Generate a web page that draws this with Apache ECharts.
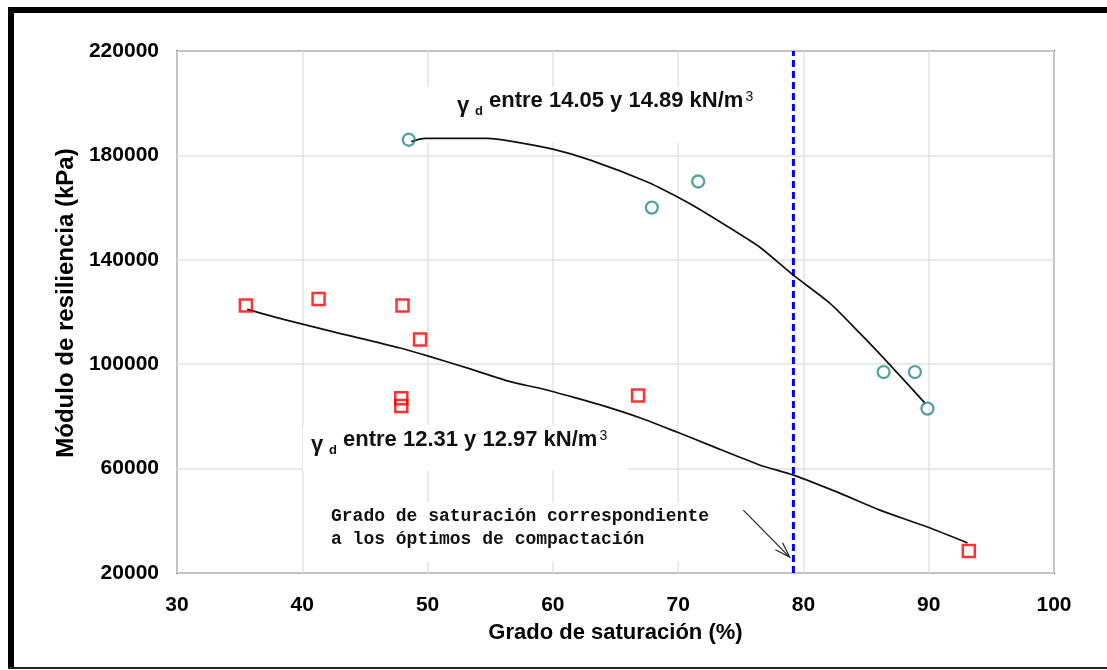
<!DOCTYPE html>
<html>
<head>
<meta charset="utf-8">
<script src="https://cdn.jsdelivr.net/npm/echarts@6/dist/echarts.min.js"></script>
<style>
  html, body { margin: 0; padding: 0; background: #fff; }
  #chart { width: 1107px; height: 670px; }
</style>
</head>
<body>
<div id="chart"></div>
<script>
// Ensayos con peso volumétrico seco alto (círculos)
const saturacionAlta = [48.5, 67.9, 71.6, 86.4, 88.9, 89.9];
const moduloAlta = [186000, 160000, 170000, 97000, 97000, 83000];

// Ensayos con peso volumétrico seco bajo (cuadrados)
const saturacionBaja = [35.5, 41.3, 48.0, 49.4, 47.9, 47.9, 66.8, 93.2];
const moduloBaja = [122500, 125000, 122500, 109500, 87000, 84000, 88000, 28400];

// Curvas de tendencia
const tendenciaAltaX = [48.7, 49.8, 54.8, 56.6, 60.0, 63.0, 67.5, 70.1, 71.7, 74.4, 76.5, 79.2, 82.1, 84.5, 86.7, 89.7];
const tendenciaAltaY = [185300, 186500, 186500, 185500, 182400, 178200, 169900, 163700, 159400, 151400, 144900, 134100, 123400, 111900, 100800, 85100];
const tendenciaBajaX = [35.6, 38.5, 42.5, 47.8, 50.2, 53.4, 56.6, 59.2, 61.9, 63.8, 67.0, 69.9, 72.5, 76.5, 79.2, 82.9, 86.1, 89.9, 93.1];
const tendenciaBajaY = [121000, 117200, 112400, 106200, 102900, 98200, 93300, 90500, 87000, 84400, 79400, 74000, 69000, 61400, 57500, 50600, 44100, 37600, 31500];

// Grado de saturación de los óptimos de compactación
const saturacionOptima = 79.2;
// Flecha que señala la línea de óptimos
const flechaX = [75.2, 78.9];
const flechaY = [44100, 26100];

// Ejes
const ejeX = { min: 30, max: 100, interval: 10 };
const ejeY = { min: 20000, max: 220000, interval: 40000 };

const zip = (xs, ys) => xs.map((x, i) => [x, ys[i]]);

const sans = 'Liberation Sans, Arial, sans-serif';
const labelFont = { fontFamily: sans, fontWeight: 'bold', color: '#000' };

// Rótulo "γd entre ... kN/m³" con subíndice y superíndice, sobre un fondo blanco
function rotulo(x, y, texto) {
  return [
    { type: 'rect', z: 1, shape: texto.fondo, style: { fill: '#fff' } },
    { type: 'text', z: 10, left: x, top: y + 3, style: { text: 'γ', fontSize: 22, fontWeight: 'bold', fontFamily: sans, fill: '#111' } },
    { type: 'text', z: 10, left: x + 18, top: y + 13, style: { text: 'd', fontSize: 13, fontWeight: 'bold', fontFamily: sans, fill: '#111' } },
    {
      type: 'text', z: 10, left: x + 32, top: y - 2,
      style: {
        text: '{t|' + texto.linea + '}{p|3}',
        rich: {
          t: { fontSize: 22, fontWeight: 'bold', fontFamily: sans, lineHeight: 26, verticalAlign: 'top', fill: '#111' },
          p: { fontSize: 14, fontFamily: sans, lineHeight: 18, verticalAlign: 'top', fill: '#111', padding: [0, 0, 0, 2] }
        }
      }
    }
  ];
}

const chart = echarts.init(document.getElementById('chart'), null, { renderer: 'canvas' });

const option = {
  backgroundColor: '#fff',
  animation: false,
  grid: {
    left: 177, right: 53, top: 51, bottom: 97,
    show: true, borderColor: '#6e6e6e', borderWidth: 2, backgroundColor: 'transparent'
  },
  xAxis: {
    type: 'value', min: ejeX.min, max: ejeX.max, interval: ejeX.interval,
    name: 'Grado de saturación (%)', nameLocation: 'middle', nameGap: 49,
    nameTextStyle: Object.assign({ fontSize: 22 }, labelFont),
    axisLine: { show: false }, axisTick: { show: false },
    axisLabel: Object.assign({ fontSize: 21, margin: 22, formatter: v => String(v) }, labelFont),
    splitLine: { show: true, lineStyle: { color: '#e2e2e2', width: 1.5 } }
  },
  yAxis: {
    type: 'value', min: ejeY.min, max: ejeY.max, interval: ejeY.interval,
    name: 'Módulo de resiliencia (kPa)', nameLocation: 'middle', nameGap: 99,
    nameTextStyle: Object.assign({ fontSize: 24, padding: [0, 0, 0, 18] }, labelFont),
    axisLine: { show: false }, axisTick: { show: false },
    axisLabel: Object.assign({ fontSize: 21, margin: 18, formatter: v => String(v) }, labelFont),
    splitLine: { show: true, lineStyle: { color: '#e2e2e2', width: 1.5 } }
  },
  series: [
    {
      name: 'Óptimos de compactación', type: 'line',
      data: [[saturacionOptima, ejeY.min], [saturacionOptima, ejeY.max]],
      symbol: 'none', silent: true,
      lineStyle: { color: '#0000ff', width: 3, type: [7, 4] },
      z: 2
    },
    {
      name: 'Tendencia alta', type: 'line', data: zip(tendenciaAltaX, tendenciaAltaY),
      symbol: 'none', smooth: 0.25,
      lineStyle: { color: '#111', width: 1.7 }, z: 3
    },
    {
      name: 'Tendencia baja', type: 'line', data: zip(tendenciaBajaX, tendenciaBajaY),
      symbol: 'none', smooth: 0.25,
      lineStyle: { color: '#111', width: 1.7 }, z: 3
    },
    {
      name: 'γd 14.05 - 14.89', type: 'scatter', data: zip(saturacionAlta, moduloAlta),
      symbol: 'circle', symbolSize: 12,
      itemStyle: { color: 'rgba(255,255,255,0)', borderColor: '#278c87', borderWidth: 2.3 }, z: 4
    },
    {
      name: 'γd 12.31 - 12.97', type: 'scatter', data: zip(saturacionBaja, moduloBaja),
      symbol: 'rect', symbolSize: 12,
      itemStyle: { color: 'rgba(255,255,255,0)', borderColor: '#ff0000', borderWidth: 2.5 }, z: 4
    },
    {
      name: 'Flecha', type: 'custom', silent: true, z: 5,
      data: [[flechaX[0], flechaY[0], flechaX[1], flechaY[1]]],
      renderItem: function (params, api) {
        const p0 = api.coord([api.value(0), api.value(1)]);
        const p1 = api.coord([api.value(2), api.value(3)]);
        const ang = Math.atan2(p1[1] - p0[1], p1[0] - p0[0]);
        const len = 16, spread = 0.32;
        const h1 = [p1[0] - len * Math.cos(ang - spread), p1[1] - len * Math.sin(ang - spread)];
        const h2 = [p1[0] - len * Math.cos(ang + spread), p1[1] - len * Math.sin(ang + spread)];
        const st = { stroke: '#222', lineWidth: 1.2, fill: null };
        return {
          type: 'group',
          children: [
            { type: 'polyline', shape: { points: [p0, p1] }, style: st },
            { type: 'polyline', shape: { points: [h1, p1, h2] }, style: st }
          ]
        };
      }
    }
  ],
  graphic: [
    // Marco exterior
    { type: 'line', z: 20, shape: { x1: 8, y1: 10, x2: 1107, y2: 10 }, style: { stroke: '#000', lineWidth: 6 } },
    { type: 'line', z: 20, shape: { x1: 11, y1: 7, x2: 11, y2: 669 }, style: { stroke: '#000', lineWidth: 6 } },
    { type: 'line', z: 20, shape: { x1: 8, y1: 668, x2: 1107, y2: 668 }, style: { stroke: '#222', lineWidth: 2 } }
  ]
    .concat(rotulo(457, 92, { linea: 'entre 14.05 y 14.89 kN/m', fondo: { x: 416, y: 87, width: 358, height: 56 } }))
    .concat(rotulo(311, 431, { linea: 'entre 12.31 y 12.97 kN/m', fondo: { x: 303, y: 425, width: 325, height: 46 } }))
    .concat([
      // Nota sobre la línea de óptimos
      { type: 'rect', z: 1, shape: { x: 322, y: 502, width: 410, height: 60 }, style: { fill: '#fff' } },
      {
        type: 'text', z: 10, left: 331, top: 505,
        style: {
          text: 'Grado de saturación correspondiente\na los óptimos de compactación',
          fontSize: 18, fontWeight: 'bold', lineHeight: 23,
          fontFamily: 'Liberation Mono, Courier New, monospace', fill: '#111'
        }
      }
    ])
};

chart.setOption(option);
</script>
</body>
</html>
